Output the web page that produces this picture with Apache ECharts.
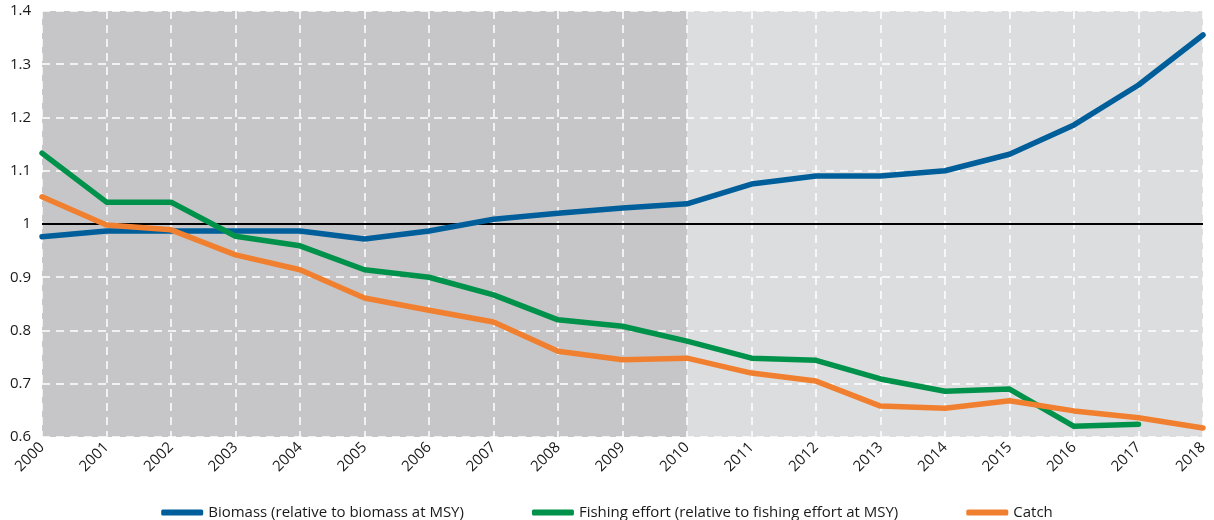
<!DOCTYPE html>
<html>
<head>
<meta charset="utf-8">
<script src="https://cdn.jsdelivr.net/npm/echarts@6/dist/echarts.min.js"></script>
<style>
  html, body { margin: 0; padding: 0; background: #fff; }
  #chart { width: 1214px; height: 520px; }
</style>
</head>
<body>
<div id="chart"></div>
<script>
// 年份
const years = ['2000', '2001', '2002', '2003', '2004', '2005', '2006', '2007', '2008', '2009',
  '2010', '2011', '2012', '2013', '2014', '2015', '2016', '2017', '2018']

// 生物量 (relative to biomass at MSY)
const biomass = [0.976, 0.987, 0.987, 0.987, 0.987, 0.972, 0.987, 1.009, 1.02, 1.03,
  1.038, 1.075, 1.09, 1.09, 1.1, 1.131, 1.186, 1.261, 1.355]

// 捕捞努力量 (relative to fishing effort at MSY)
const effort = [1.133, 1.041, 1.041, 0.977, 0.959, 0.914, 0.9, 0.867, 0.82, 0.808,
  0.78, 0.748, 0.744, 0.709, 0.686, 0.69, 0.62, 0.624, null]

// 捕获量
const catchData = [1.051, 0.998, 0.989, 0.942, 0.914, 0.861, 0.838, 0.816, 0.761, 0.745,
  0.748, 0.72, 0.705, 0.658, 0.654, 0.668, 0.649, 0.636, 0.617]

const names = [
  'Biomass (relative to biomass at MSY)',
  'Fishing effort (relative to fishing effort at MSY)',
  'Catch'
]
const colors = ['#005f9b', '#00924a', '#f08030']

const font = 'Open Sans'
const chart = echarts.init(document.getElementById('chart'))

const options = {
  animation: false,
  textStyle: { fontFamily: font },
  // --------------   图例 -----------------
  legend: {
    top: 500,
    left: 'center',
    itemWidth: 42,
    itemHeight: 6,
    itemGap: 68,
    icon: 'roundRect',
    textStyle: { fontSize: 15, color: '#1a1a1a', fontFamily: font },
    data: names
  },
  // -------------  grid区域  ----------------
  grid: {
    show: false,
    left: 42,
    right: 11,
    top: 11,
    bottom: 83,
    containLabel: false
  },
  // -------------   x轴   -------------------
  xAxis: {
    type: 'category',
    boundaryGap: false,
    data: years,
    z: 3,
    axisLine: { show: false },
    axisTick: { show: false },
    axisLabel: {
      rotate: 45,
      margin: 8,
      fontSize: 15,
      color: '#1a1a1a',
      interval: 0
    },
    splitLine: {
      show: true,
      interval: 0,
      lineStyle: { color: '#ffffff', width: 1.5, type: [8, 6] }
    }
  },
  // ----------------------  y轴  ------------------------
  yAxis: {
    type: 'value',
    min: 0.6,
    max: 1.4,
    interval: 0.1,
    z: 3,
    axisLine: { show: false },
    axisTick: { show: false },
    axisLabel: {
      fontSize: 15,
      color: '#1a1a1a',
      margin: 11,
      formatter: v => String(Math.round(v * 10) / 10)
    },
    splitLine: {
      show: true,
      lineStyle: { color: '#ffffff', width: 1.5, type: [8, 6] }
    }
  },
  series: [
    {
      // 背景区域: 2000-2010 深色, 2010-2018 浅色
      name: 'bg',
      type: 'line',
      data: [],
      z: 1,
      silent: true,
      markArea: {
        silent: true,
        data: [
          [{ xAxis: '2000', yAxis: 0.6, itemStyle: { color: '#c6c6c8' } }, { xAxis: '2010', yAxis: 1.4 }],
          [{ xAxis: '2010', yAxis: 0.6, itemStyle: { color: '#dcdddf' } }, { xAxis: '2018', yAxis: 1.4 }]
        ]
      }
    }
  ]
}

const seriesData = [biomass, effort, catchData]
seriesData.forEach((d, i) => {
  const item = {
    name: names[i],
    type: 'line',
    data: d,
    symbol: 'none',
    z: 5 + i,
    lineStyle: { color: colors[i], width: 5.5, cap: 'round', join: 'round' },
    itemStyle: { color: colors[i] },
    emphasis: { disabled: true }
  }
  if (i === 0) {
    // y=1 参考线
    item.markLine = {
      silent: true,
      symbol: 'none',
      label: { show: false },
      lineStyle: { color: '#000', width: 2, type: 'solid' },
      data: [{ yAxis: 1 }]
    }
  }
  options.series.push(item)
})

chart.setOption(options)
</script>
</body>
</html>
